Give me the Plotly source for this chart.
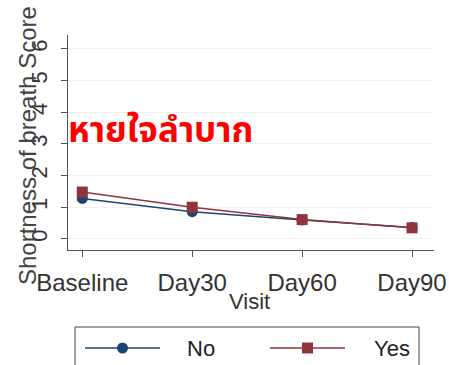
import plotly.graph_objects as go

visits = ["Baseline", "Day30", "Day60", "Day90"]
no_vals = [1.28, 0.86, 0.60, 0.36]
yes_vals = [1.48, 1.00, 0.61, 0.35]
y_ticks = [0, 1, 2, 3, 4, 5, 6]
series_names = ["No", "Yes"]

NAVY = "#1a476f"
MAROON = "#90353b"
FONT = "Liberation Sans, Arial, sans-serif"

fig = go.Figure()
fig.add_trace(go.Scatter(x=visits, y=no_vals, mode="lines+markers", name=series_names[0],
                         line=dict(color=NAVY, width=1.5),
                         marker=dict(symbol="circle", size=11, color=NAVY)))
fig.add_trace(go.Scatter(x=visits, y=yes_vals, mode="lines+markers", name=series_names[1],
                         line=dict(color=MAROON, width=1.5),
                         marker=dict(symbol="square", size=11, color=MAROON)))

W, H = 449, 365
L, T = 68, 35
R = W - 434
B = H - 250
pw, ph = W - L - R, H - T - B

def px(x):
    return (x - L) / pw

def py(y):
    return (H - B - y) / ph

fig.update_layout(
    width=W, height=H,
    margin=dict(l=L, r=R, t=T, b=B, pad=0, autoexpand=False),
    paper_bgcolor="white", plot_bgcolor="white",
    showlegend=False,
    font=dict(family=FONT, size=22, color="#333333"),
    xaxis=dict(range=[-0.13, 3.2], showline=True, linecolor="#555555", linewidth=1,
               ticks="outside", ticklen=6, tickcolor="#555555", showgrid=False,
               tickfont=dict(size=24, color="#333333"), ticklabelstandoff=5,
               automargin=False),
    yaxis=dict(range=[-0.35, 6.44], tickvals=y_ticks, showline=True, linecolor="#555555",
               linewidth=1, ticks="outside", ticklen=6, tickcolor="#555555",
               showgrid=True, gridcolor="#f0f0f0", gridwidth=1, zeroline=False,
               tickangle=-90, tickfont=dict(size=22, color="#333333"),
               ticklabelstandoff=5, automargin=False),
)

annotations = [
    dict(text="Shortness of breath Score", textangle=-90, xref="paper", yref="paper",
         x=px(27), y=py(146), showarrow=False, font=dict(size=24, color="#444444"),
         xanchor="center", yanchor="middle"),
    dict(text="Visit", xref="paper", yref="paper", x=px(249), y=py(301), showarrow=False,
         font=dict(size=22, color="#333333"), xanchor="center", yanchor="middle"),
    dict(text="<b>หายใจลำบาก</b>", xref="paper", yref="paper", x=px(66), y=py(131),
         showarrow=False, font=dict(size=35, color="#ff0000",
                                    family="Noto Sans Thai, Loma, Tahoma, sans-serif"),
         xanchor="left", yanchor="middle"),
    dict(text=series_names[0], xref="paper", yref="paper", x=px(185), y=py(348), showarrow=False,
         font=dict(size=22, color="#222222"), xanchor="left", yanchor="middle"),
    dict(text=series_names[1], xref="paper", yref="paper", x=px(372), y=py(348), showarrow=False,
         font=dict(size=22, color="#222222"), xanchor="left", yanchor="middle"),
]
fig.update_layout(annotations=annotations)

shapes = [
    dict(type="rect", xref="paper", yref="paper", x0=px(75), x1=px(419), y0=py(375), y1=py(327),
         line=dict(color="#444444", width=1), fillcolor="white", layer="above"),
    dict(type="line", xref="paper", yref="paper", x0=px(85), x1=px(160), y0=py(348), y1=py(348),
         line=dict(color=NAVY, width=1.5)),
    dict(type="circle", xref="paper", yref="paper", x0=px(117), x1=px(128), y0=py(353.5), y1=py(342.5),
         line=dict(color=NAVY, width=0), fillcolor=NAVY),
    dict(type="line", xref="paper", yref="paper", x0=px(270), x1=px(345), y0=py(348), y1=py(348),
         line=dict(color=MAROON, width=1.5)),
    dict(type="rect", xref="paper", yref="paper", x0=px(302), x1=px(313), y0=py(353.5), y1=py(342.5),
         line=dict(color=MAROON, width=0), fillcolor=MAROON),
]
fig.update_layout(shapes=shapes)

fig.write_html("out.html", config={"displayModeBar": False},
               post_script="document.body.style.margin='0';document.body.style.overflow='hidden';")
